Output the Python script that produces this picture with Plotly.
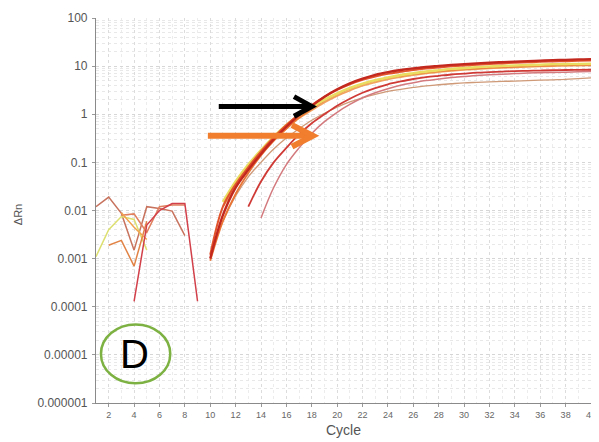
import plotly.graph_objects as go

# ---------------- data ----------------
y_tick_vals = [1e-6, 1e-5, 1e-4, 1e-3, 1e-2, 1e-1, 1, 10, 100]
y_tick_text = ["0.000001", "0.00001", "0.0001", "0.001", "0.01", "0.1", "1", "10", "100"]

# amplification curves (start cycle, values per cycle)
dark_red_start = 10
dark_red = [0.001, 0.008, 0.03, 0.07, 0.15, 0.3, 0.55, 0.95, 1.5, 2.3, 3.3, 4.4, 5.5, 6.6, 7.5, 8.3,
            9.0, 9.6, 10.1, 10.6, 11.0, 11.4, 11.8, 12.1, 12.4, 12.7, 13.0, 13.3, 13.5, 13.8, 14.0]
orange_red_start = 10
orange_red = [0.0012, 0.012, 0.035, 0.08, 0.17, 0.33, 0.6, 1.0, 1.55, 2.3, 3.2, 4.2, 5.2, 6.1, 6.9, 7.6,
              8.3, 8.9, 9.4, 9.9, 10.3, 10.7, 11.1, 11.4, 11.7, 12.0, 12.3, 12.5, 12.7, 12.9, 13.1]
yellow_start = 11
yellow = [0.015, 0.04, 0.09, 0.18, 0.34, 0.6, 0.95, 1.4, 2.0, 2.7, 3.5, 4.3, 5.1, 5.8, 6.5, 7.1,
          7.7, 8.2, 8.7, 9.1, 9.5, 9.8, 10.1, 10.3, 10.5, 10.7, 10.9, 11.0, 11.1, 11.2]
light_orange_start = 11
light_orange = [0.012, 0.03, 0.07, 0.15, 0.29, 0.5, 0.82, 1.2, 1.75, 2.4, 3.1, 3.9, 4.6, 5.3, 5.9, 6.5,
                7.0, 7.5, 7.9, 8.3, 8.6, 8.9, 9.2, 9.4, 9.6, 9.8, 10.0, 10.1, 10.2, 10.3]
orange_start = 10
orange = [0.0009, 0.006, 0.022, 0.06, 0.14, 0.28, 0.5, 0.85, 1.3, 1.9, 2.6, 3.4, 4.2, 5.0, 5.7, 6.3,
          6.9, 7.4, 7.9, 8.3, 8.7, 9.0, 9.3, 9.6, 9.8, 10.0, 10.2, 10.4, 10.5, 10.6, 10.7]
red_start = 13
red = [0.012, 0.04, 0.1, 0.2, 0.38, 0.65, 1.0, 1.5, 2.1, 2.8, 3.5, 4.2, 4.8, 5.4, 5.9, 6.3,
       6.7, 7.0, 7.3, 7.5, 7.7, 7.9, 8.0, 8.1, 8.2, 8.3, 8.35, 8.4]
pink_start = 14
pink = [0.007, 0.03, 0.09, 0.2, 0.4, 0.7, 1.1, 1.6, 2.2, 2.8, 3.4, 4.0, 4.5, 5.0, 5.4, 5.8,
        6.1, 6.4, 6.6, 6.8, 7.0, 7.2, 7.3, 7.4, 7.5, 7.6, 7.7]
tan_start = 11
tan = [0.006, 0.02, 0.05, 0.1, 0.19, 0.32, 0.5, 0.75, 1.05, 1.4, 1.8, 2.2, 2.6, 3.0, 3.3, 3.6,
       3.9, 4.1, 4.3, 4.5, 4.6, 4.7, 4.8, 4.9, 5.0, 5.1, 5.2, 5.3, 5.5, 5.7]

# baseline noise segments (cycles, values)
noise_brown_x = [1, 2, 3, 4, 5, 6, 7, 8]
noise_brown_y = [0.012, 0.019, 0.0087, 0.0015, 0.012, 0.011, 0.0097, 0.003]
noise_yellow_x = [1, 2, 3, 4, 5]
noise_yellow_y = [0.0011, 0.004, 0.0075, 0.0065, 0.0015]
noise_orange_x = [2, 3, 4, 5]
noise_orange_y = [0.0019, 0.0024, 0.0007, 0.006]
noise_red_x = [4, 5, 6, 7, 8, 9]
noise_red_y = [0.00013, 0.005, 0.01, 0.014, 0.014, 0.00013]
noise_salmon_x = [3, 4, 5, 6, 7, 8]
noise_salmon_y = [0.008, 0.0085, 0.0035, 0.012, 0.013, 0.013]
noise_amber_x = [3, 4, 5]
noise_amber_y = [0.009, 0.0045, 0.0025]

amp_series = [
    (tan_start, tan, "#cf9a78", 1.3),
    (pink_start, pink, "#d37a7e", 1.5),
    (red_start, red, "#cf3a36", 1.8),
    (light_orange_start, light_orange, "#f2a35e", 1.6),
    (orange_start, orange, "#ea7434", 1.8),
    (yellow_start, yellow, "#e9dc60", 2.6),
    (orange_red_start, orange_red, "#e2542c", 2.0),
    (dark_red_start, dark_red, "#c3281e", 2.4),
]
noise_series = [
    (noise_brown_x, noise_brown_y, "#c8735e"),
    (noise_yellow_x, noise_yellow_y, "#dde070"),
    (noise_orange_x, noise_orange_y, "#e28346"),
    (noise_salmon_x, noise_salmon_y, "#e0805e"),
    (noise_amber_x, noise_amber_y, "#f2a24e"),
    (noise_red_x, noise_red_y, "#d2404a"),
]

fig = go.Figure()
for xs, ys, col in noise_series:
    fig.add_trace(go.Scatter(x=xs, y=ys, mode="lines", line=dict(color=col, width=1.5),
                             showlegend=False, hoverinfo="skip"))
for start, vals, col, w in amp_series:
    xs = list(range(start, start + len(vals)))
    fig.add_trace(go.Scatter(x=xs, y=vals, mode="lines", line=dict(color=col, width=w, shape="spline"),
                             showlegend=False, hoverinfo="skip"))

# --------------- layout ---------------
# the page body has an 8px margin, so the figure starts at (8, 8) in the window
OFF = 8
W, H = 599 - OFF, 442 - OFF
PL, PR, PT, PB = 96, 596, 11, 403  # plot area in window pixels
L, R, T, B = PL - OFF, W - (PR - OFF), PT - OFF, H - (PB - OFF)
PW, PH = PR - PL, PB - PT


def px(xp):
    return (xp - PL) / PW


def py(yp):
    return (PB - yp) / PH


shapes = []
shapes.append(dict(type="circle", xref="paper", yref="paper", x0=px(101), x1=px(171),
                   y0=py(383), y1=py(323), line=dict(color="#7db243", width=2.5)))
shapes.append(dict(type="line", xref="paper", yref="paper", x0=px(220), y0=py(101), x1=px(312), y1=py(101),
                   line=dict(color="black", width=5)))
shapes.append(dict(type="path", xref="paper", yref="paper",
                   path=f"M {px(296)} {py(91)} L {px(314)} {py(101)} L {px(296)} {py(111)}",
                   line=dict(color="black", width=5)))
shapes.append(dict(type="line", xref="paper", yref="paper", x0=px(209), y0=py(131), x1=px(313), y1=py(131),
                   line=dict(color="#f07e2e", width=6)))
shapes.append(dict(type="path", xref="paper", yref="paper",
                   path=f"M {px(294)} {py(120)} L {px(315)} {py(131)} L {px(294)} {py(142)}",
                   line=dict(color="#f07e2e", width=6)))

fig.update_layout(
    width=W, height=H,
    margin=dict(l=L, r=R, t=T, b=B),
    paper_bgcolor="white", plot_bgcolor="white",
    font=dict(family="Liberation Sans, Arial, sans-serif", color="#555555", size=11),
    shapes=shapes,
    annotations=[
        dict(text="D", xref="paper", yref="paper", x=px(135), y=py(353), showarrow=False,
             xanchor="center", yanchor="middle",
             font=dict(size=40, color="black", family="Liberation Sans Narrow, Liberation Sans, Arial")),
        dict(text="ΔRn", xref="paper", yref="paper", x=px(18), y=py(211), showarrow=False,
             xanchor="center", yanchor="middle",
             textangle=-90, font=dict(size=11, color="#555555")),
    ],
)
fig.update_xaxes(
    range=[1, 40], tick0=0, dtick=2, showline=True, linecolor="#8a8a8a", linewidth=1.2,
    ticks="outside", ticklen=3, tickcolor="#999999", ticklabeloverflow="allow",
    showgrid=True, gridcolor="#dcdcdc", griddash="dot", gridwidth=1,
    minor=dict(dtick=1, showgrid=True, gridcolor="#ececec", griddash="dot"),
    tickfont=dict(size=9, color="#666666"), zeroline=False,
    title=dict(text="Cycle", font=dict(size=14, color="#555555"), standoff=6),
)
fig.update_yaxes(
    type="log", range=[-6, 2], tickvals=y_tick_vals, ticktext=y_tick_text,
    showline=True, linecolor="#8a8a8a", linewidth=1.2,
    ticks="outside", ticklen=3, tickcolor="#999999", ticklabeloverflow="allow",
    ticklabelstandoff=2,
    showgrid=True, gridcolor="#d6d6d6", griddash="dot", gridwidth=1,
    minor=dict(dtick="D1", showgrid=True, gridcolor="#e8e8e8", griddash="dot"),
    tickfont=dict(size=12, color="#555555"), zeroline=False,
)

fig.write_html("out.html")
